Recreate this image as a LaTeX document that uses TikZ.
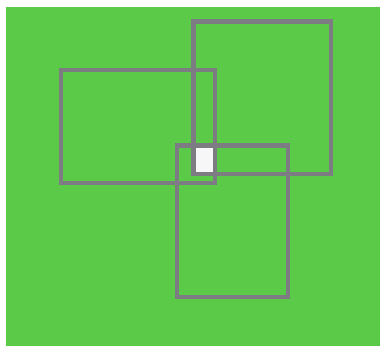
\documentclass[tikz,border=0pt]{standalone}
\definecolor{fondo}{RGB}{90,202,72}
\definecolor{marco}{RGB}{124,124,130}
\tikzset{
    cuadro/.style={draw=marco, line width=4.6pt},
}
\begin{document}
\begin{tikzpicture}[x=1pt, y=-1pt]
        \useasboundingbox (0,0) rectangle (382,351);
        % ── fondo verde ──────────────────────────
        \fill[fondo] (6,7) rectangle (380,346);
        % ── zona comun de los tres marcos ──────────────────────────
        \fill[white!94!gray] (193.5,145.5) rectangle (215,174);
        % ── los tres marcos ──────────────────────────
        \draw[cuadro] (61,70) rectangle (215,183);
        \draw[cuadro] (193.5,21.5) rectangle (331,174);
        \draw[cuadro] (177,145.5) rectangle (288,297);
    \end{tikzpicture}
\end{document}
